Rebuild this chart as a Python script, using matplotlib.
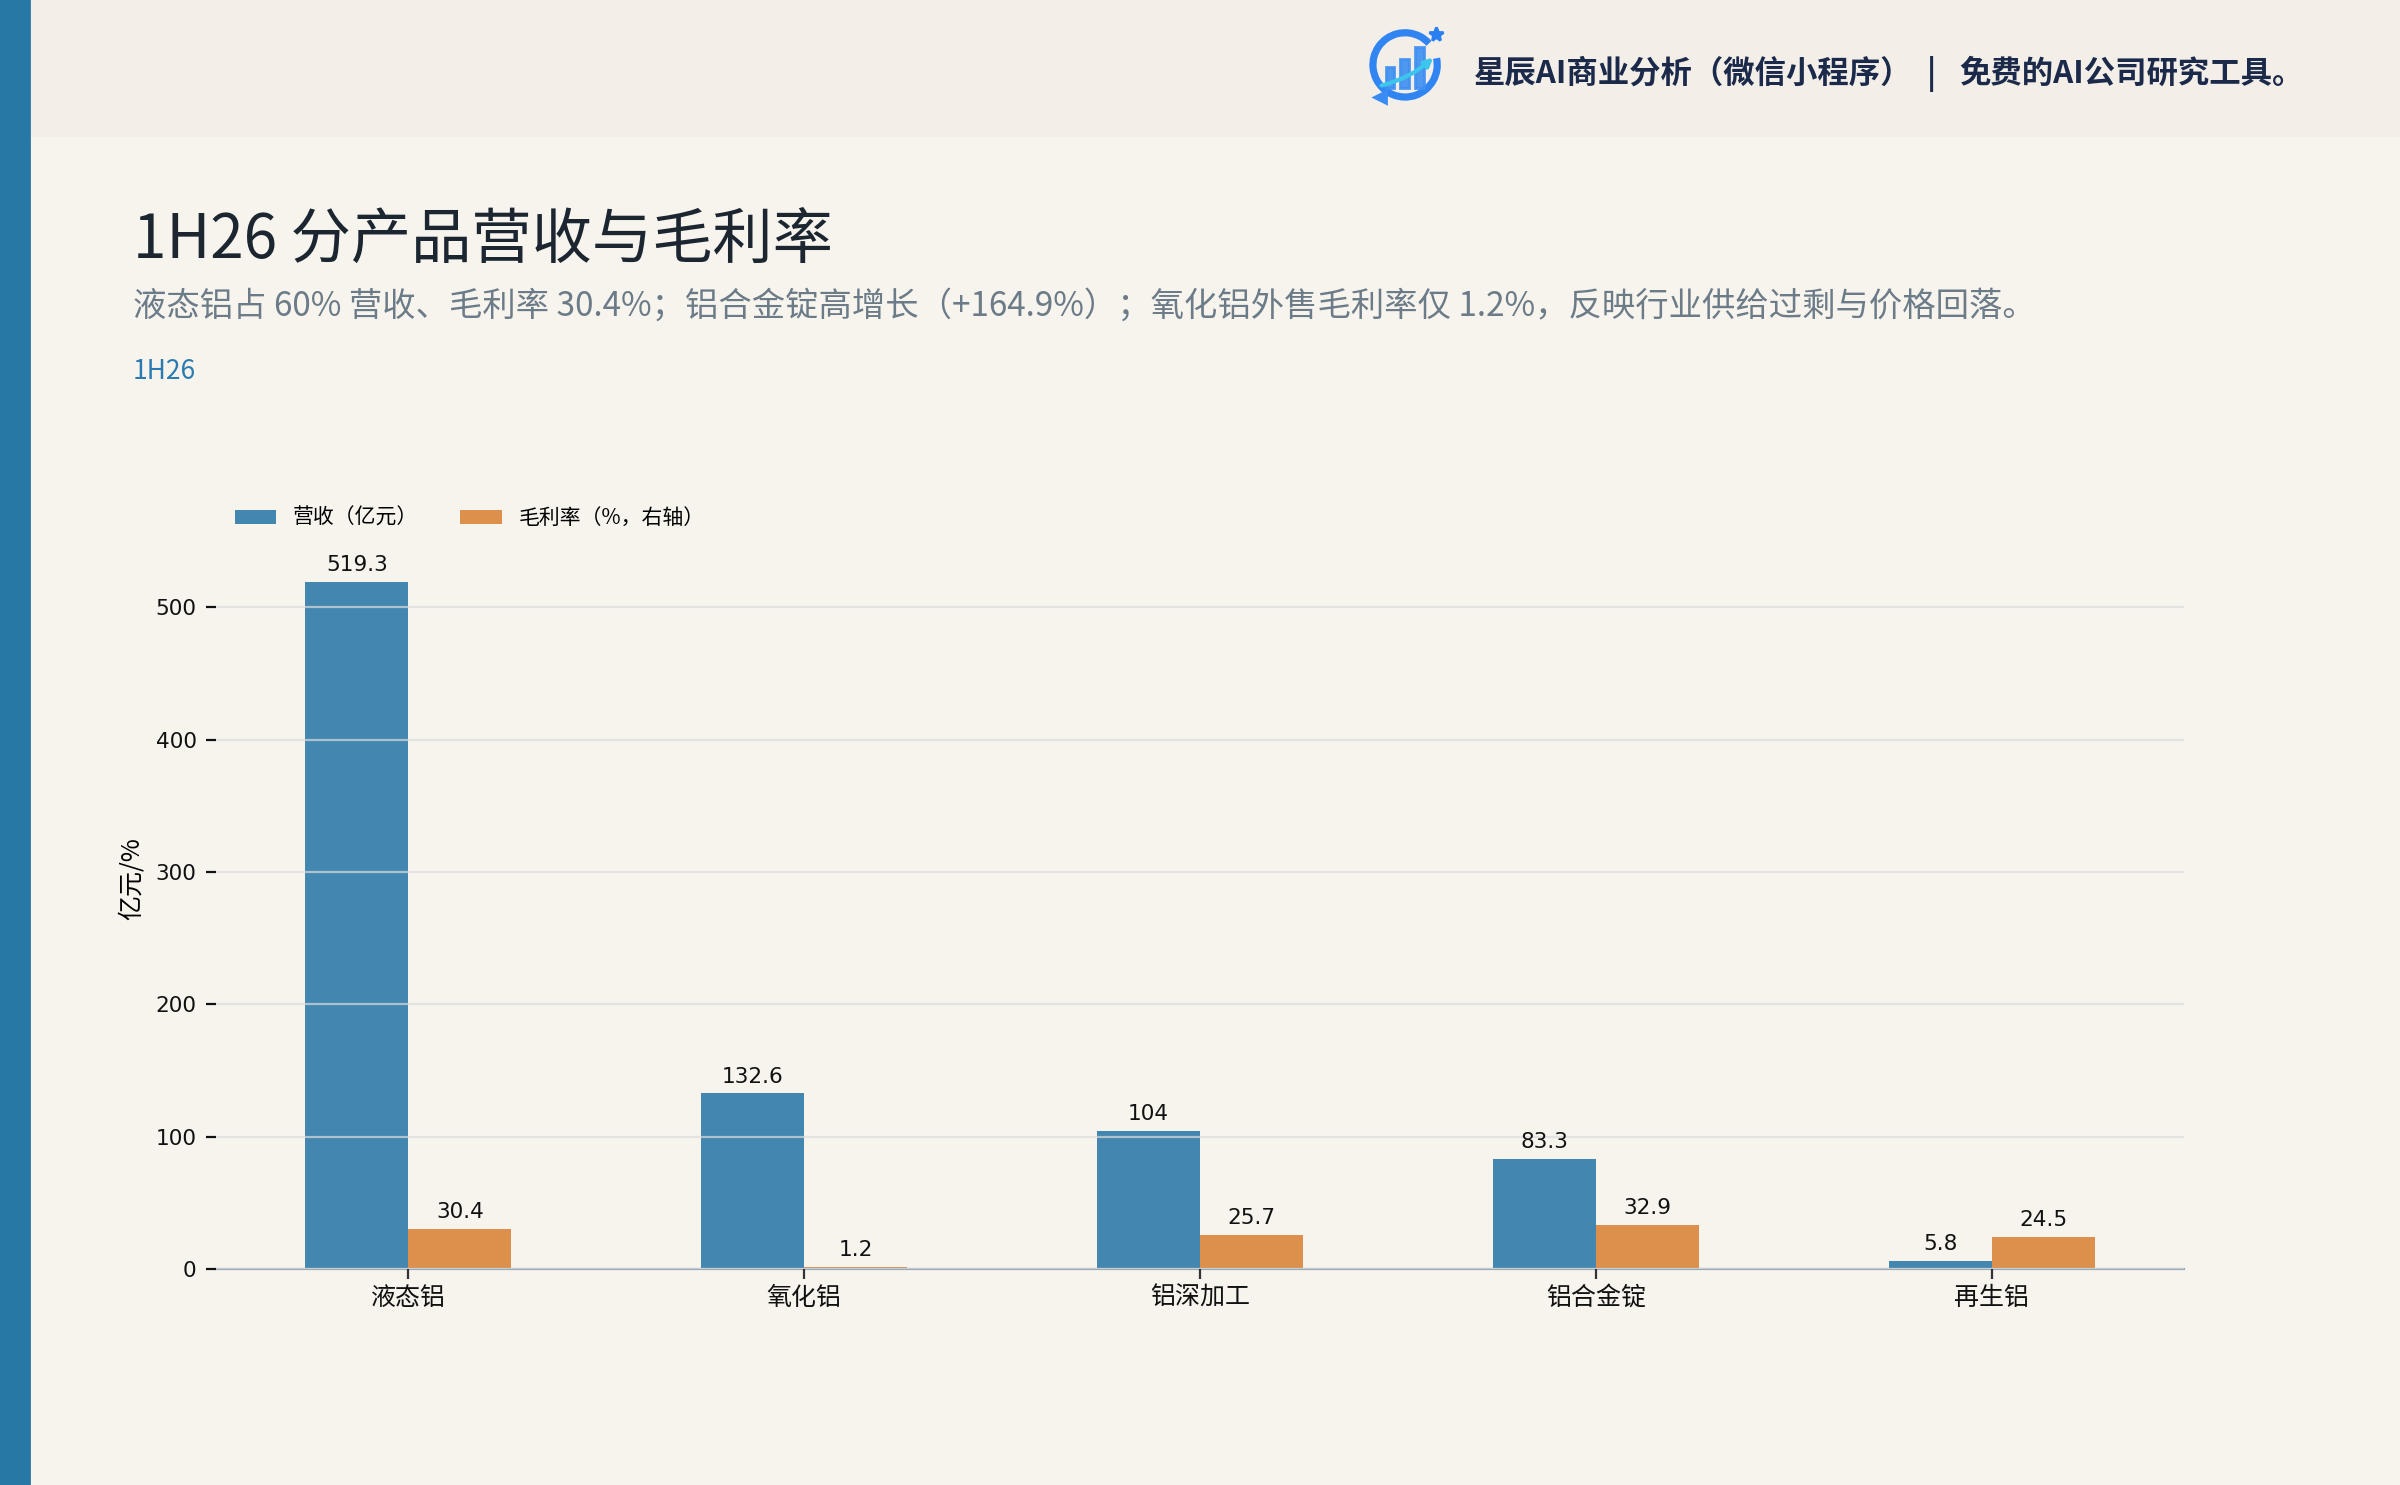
import numpy as np
import matplotlib.pyplot as plt
from matplotlib.patches import Rectangle, Arc, FancyArrowPatch

# data
products = ['液态铝', '氧化铝', '铝深加工', '铝合金锭', '再生铝']
revenue = [519.3, 132.6, 104, 83.3, 5.8]          # 营收（亿元）
gross_margin = [30.4, 1.2, 25.7, 32.9, 24.5]      # 毛利率（%）

title = '1H26 分产品营收与毛利率'
subtitle = '液态铝占 60% 营收、毛利率 30.4%；铝合金锭高增长（+164.9%）；氧化铝外售毛利率仅 1.2%，反映行业供给过剩与价格回落。'
period = '1H26'
header_left = '星辰AI商业分析（微信小程序）'
header_right = '免费的AI公司研究工具。'

BG = '#f7f4ee'
BLUE = '#4387b0'
ORANGE = '#dd904c'
CJK = ['Noto Sans CJK SC', 'DejaVu Sans']


def draw_logo(fig):
    # 简易 logo：圆环 + 柱子 + 上升箭头
    lax = fig.add_axes([0.5667, 0.926, 0.0375, 0.0606], zorder=5)
    lax.set_xlim(-1.4, 1.4)
    lax.set_ylim(-1.4, 1.4)
    lax.axis('off')
    lax.add_patch(Arc((0, 0), 2.0, 2.0, theta1=42, theta2=372, lw=2.6, color='#3185f3'))
    for bx, bh in [(-0.6, 0.65), (-0.16, 0.91), (0.31, 1.28)]:
        lax.add_patch(Rectangle((bx, -0.73), 0.27, bh, color='#3d8ff2', alpha=0.9))
    lax.add_patch(FancyArrowPatch((-0.9, -0.68), (1.0, 0.35), arrowstyle='-|>',
                                  connectionstyle='arc3,rad=0.15',
                                  mutation_scale=6, lw=1.5, color='#3cc6ec'))
    lax.plot([0.95], [0.95], marker='*', ms=5, color='#2a7ff2')
    lax.plot([-0.78], [-1.0], marker='<', ms=4, color='#3a8cf4')


def main():
    fig = plt.figure(figsize=(12, 7.425), dpi=200, facecolor=BG)
    plt.rcParams['font.family'] = ['DejaVu Sans', 'Noto Sans CJK SC']

    # 左侧色条与顶部横幅
    fig.patches.append(Rectangle((0, 0.909), 1, 0.091, transform=fig.transFigure,
                                 color='#f3efe8', zorder=-2))
    fig.patches.append(Rectangle((0, 0), 0.0121, 1, transform=fig.transFigure,
                                 color='#2878a6', zorder=-1))
    draw_logo(fig)
    fig.text(0.6142, 0.9505, header_left, fontsize=11.3, fontweight='bold',
             color='#1b2a4a', va='center', family=CJK)
    fig.text(0.8048, 0.9505, '|', fontsize=11.3, fontweight='bold',
             color='#1b2a4a', va='center', ha='center', family=CJK)
    fig.text(0.8163, 0.9505, header_right, fontsize=11.3, fontweight='bold',
             color='#1b2a4a', va='center', family=CJK)

    fig.text(0.0554, 0.838, title, fontsize=21.7, color='#1b2631', va='center', family=CJK)
    fig.text(0.0554, 0.7936, subtitle, fontsize=12, color='#6b7b87', va='center', family=CJK)
    fig.text(0.0554, 0.7495, period, fontsize=9.5, color='#2b7bb0', va='center', family=CJK)

    ax = fig.add_axes([0.09, 0.1455, 0.82, 0.5256])
    ax.set_facecolor(BG)
    x = np.arange(len(products))
    w = 0.26
    b1 = ax.bar(x - w / 2, revenue, w, color=BLUE, label='营收（亿元）')
    b2 = ax.bar(x + w / 2, gross_margin, w, color=ORANGE, label='毛利率（%，右轴）')
    ax.bar_label(b1, labels=[f'{v:g}' for v in revenue], padding=2.5, fontsize=7.8, color='#111111')
    ax.bar_label(b2, labels=[f'{v:g}' for v in gross_margin], padding=2.5, fontsize=7.8, color='#111111')

    ax.set_ylim(0, max(revenue) * 1.136)
    ax.set_yticks([0, 100, 200, 300, 400, 500])
    ax.set_xticks(x)
    ax.set_xticklabels(products, fontsize=9, family=CJK)
    ax.tick_params(axis='y', labelsize=7.8, colors='#111111', length=3.5, width=0.8)
    ax.tick_params(axis='x', length=3.5, width=0.8, pad=2.2, colors='#333333', labelcolor='#111111')
    ax.set_ylabel('亿元/%', fontsize=9, family=CJK)

    ax.grid(axis='y', color='#dcdcdc', alpha=0.7, lw=0.8)
    ax.set_axisbelow(False)
    for s in ['top', 'right', 'left']:
        ax.spines[s].set_visible(False)
    ax.spines['bottom'].set_color('#9aabb8')
    ax.spines['bottom'].set_linewidth(0.8)

    ax.legend(loc='upper left', ncol=2, frameon=False, prop={'family': CJK, 'size': 7.5})

    fig.savefig('out.png', dpi=200, facecolor=BG)


if __name__ == "__main__":
    main()
